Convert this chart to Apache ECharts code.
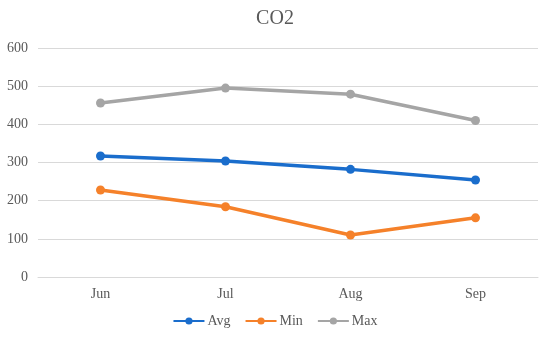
<!DOCTYPE html>
<html><head><meta charset="utf-8">
<script src="https://cdn.jsdelivr.net/npm/echarts@6/dist/echarts.min.js"></script>
<style>html,body{margin:0;padding:0;background:#fff}#c{width:550px;height:339px}</style>
</head><body><div id="c"></div>
<script>
const categories = ['Jun','Jul','Aug','Sep'];
const avgValues = [317, 304, 282, 254];
const minValues = [228, 184, 110, 155];
const maxValues = [456, 495, 479, 410];
const yTicks = [0, 600, 100];

const font = '"Liberation Serif", "Times New Roman", serif';
const chart = echarts.init(document.getElementById('c'));
function s(name, data, color){
  return {name, type:'line', data, symbol:'circle', symbolSize:9,
    lineStyle:{width:3.5, color}, itemStyle:{color}, z:3};
}
chart.setOption({
  animation:false,
  title:{text:'CO2', left:'center', top:4, textStyle:{fontFamily:font, fontSize:20, fontWeight:'normal', color:'#595959'}},
  grid:{left:38, right:12, top:48, bottom:62, containLabel:false},
  legend:{bottom:6, left:'center', itemWidth:31, itemHeight:9, itemGap:14,
    textStyle:{fontFamily:font, fontSize:14, color:'#595959', padding:[0,0,0,-2]},
    data:['Avg','Min','Max']},
  xAxis:{type:'category', data:categories, boundaryGap:true,
    axisLine:{lineStyle:{color:'#d9d9d9'}}, axisTick:{show:false},
    axisLabel:{fontFamily:font, fontSize:14, color:'#595959', margin:10}},
  yAxis:{type:'value', min:yTicks[0], max:yTicks[1], interval:yTicks[2],
    axisLine:{show:false}, axisTick:{show:false},
    splitLine:{lineStyle:{color:'#d9d9d9', width:1}},
    axisLabel:{fontFamily:font, fontSize:14, color:'#595959', margin:10}},
  series:[s('Avg', avgValues, '#1a6dcc'), s('Min', minValues, '#f5812a'), s('Max', maxValues, '#a5a5a5')]
});
</script></body></html>
